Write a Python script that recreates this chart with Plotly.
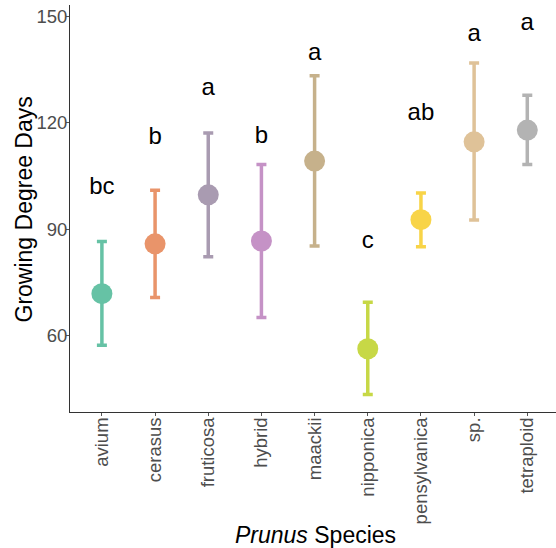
import plotly.graph_objects as go

species = ["avium", "cerasus", "fruticosa", "hybrid", "maackii",
           "nipponica", "pensylvanica", "sp.", "tetraploid"]
mean_gdd = [71.9, 85.9, 99.7, 86.7, 109.2, 56.4, 92.7, 114.6, 117.9]
upper_gdd = [86.6, 101.0, 117.1, 108.2, 133.2, 69.5, 100.2, 136.8, 127.7]
lower_gdd = [57.4, 70.8, 82.3, 65.2, 85.3, 43.5, 85.1, 92.6, 108.2]
letters = ["bc", "b", "a", "b", "a", "c", "ab", "a", "a"]
letter_y = [101.5, 115.6, 129.6, 116.1, 139.3, 86.4, 122.5, 144.6, 147.7]
colors = ["#66C2A5", "#E9946A", "#A99BB1", "#C592C6", "#C6B18B",
          "#C7D846", "#F8D448", "#DFC298", "#B3B3B3"]

xpos = list(range(1, len(species) + 1))
fig = go.Figure()
for i, sp in enumerate(species):
    fig.add_trace(go.Scatter(
        x=[xpos[i]], y=[mean_gdd[i]], mode="markers",
        marker=dict(size=21, color=colors[i]),
        error_y=dict(type="data", symmetric=False,
                     array=[upper_gdd[i] - mean_gdd[i]],
                     arrayminus=[mean_gdd[i] - lower_gdd[i]],
                     color=colors[i], thickness=3.5, width=5),
        showlegend=False, hoverinfo="skip"))

fig.add_trace(go.Scatter(
    x=xpos, y=letter_y, mode="text", text=letters,
    textposition="middle center",
    textfont=dict(family="Arial, Liberation Sans", size=24, color="black"),
    showlegend=False, hoverinfo="skip"))

fig.update_layout(
    width=556, height=548,
    margin=dict(l=70, r=0, t=5, b=136),
    plot_bgcolor="white", paper_bgcolor="white",
    font=dict(family="Arial, Liberation Sans"),
    xaxis=dict(
        range=[0.4, 9.54], tickmode="array", tickvals=xpos, ticktext=species,
        tickangle=-90, showgrid=False, zeroline=False, automargin=False,
        showline=True, linecolor="#333333", linewidth=1.1,
        ticks="outside", ticklen=3, tickcolor="#555555",
        ticklabelstandoff=-6,
        tickfont=dict(size=18.5, color="#4d4d4d")),
    yaxis=dict(
        range=[38.6, 153.1], tickvals=[60, 90, 120, 150],
        showgrid=False, zeroline=False, automargin=False,
        showline=True, linecolor="#333333", linewidth=1.1,
        ticks="outside", ticklen=3, tickcolor="#555555",
        ticklabelstandoff=-5,
        tickfont=dict(size=18.5, color="#4d4d4d")),
    annotations=[
        dict(text="<i>Prunus</i> Species", xref="paper", yref="paper",
             x=0.5, y=0, xanchor="center", yanchor="middle",
             xshift=2, yshift=-123, showarrow=False,
             font=dict(size=23, color="black")),
        dict(text="Growing Degree Days", xref="paper", yref="paper",
             x=0, y=0.5, xanchor="center", yanchor="middle", textangle=-90,
             xshift=-47, yshift=-1, showarrow=False,
             font=dict(size=23, color="black")),
    ],
)

fig.write_html("out.html")
